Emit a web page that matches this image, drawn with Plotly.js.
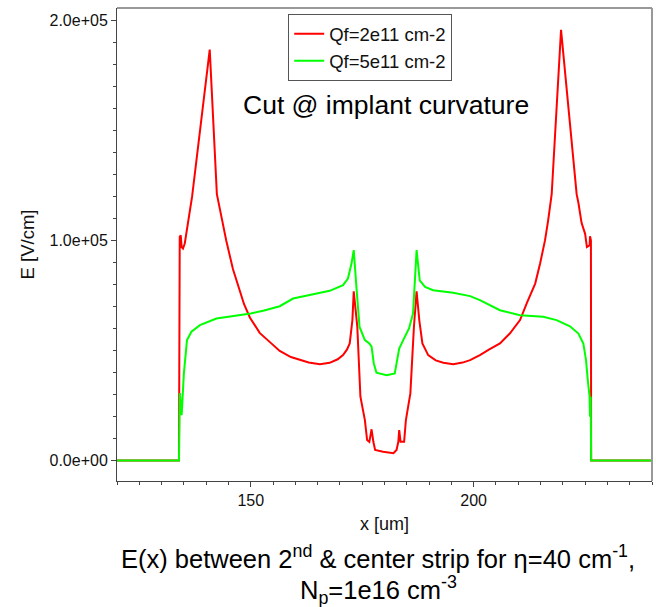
<!DOCTYPE html>
<html>
<head>
<meta charset="utf-8">
<script src="https://cdn.plot.ly/plotly-3.0.1.min.js"></script>
<style>html,body{margin:0;padding:0;background:#fff;}#chart{width:656px;height:607px;}</style>
</head>
<body>
<div id="chart"></div>
<script>
// Qf = 2e11 cm-2 (red)
const xRed = [120, 133.9, 134.07, 134.3, 134.5, 134.8, 135.2, 135.7, 136.1, 136.85, 140.8, 142.4, 143.6, 144.5, 146, 147.5, 148.5, 149.8, 152, 154.3, 156.5, 159, 161, 163, 165.5, 167.7, 169.5, 170.7, 171.6, 172.2, 172.8, 173.1, 173.9, 174.6, 175.6, 176.1, 176.6, 177.1, 177.5, 177.9, 179.7, 182, 182.7, 183.1, 183.3, 183.6, 184.4, 184.8, 185.8, 186.6, 187.2, 187.8, 188.5, 189.8, 191.5, 193.2, 195.4, 197.5, 199.2, 201.4, 203.5, 205.9, 208.1, 210.4, 211.9, 213.8, 214.9, 216, 216.7, 217.5, 219.6, 223.1, 223.5, 224.2, 225, 225.4, 226, 226.1, 226.3, 226.35, 240];
const yRed = [0, 0, 101600, 102300, 97000, 96300, 98600, 105000, 109000, 120000, 186700, 121000, 109000, 100000, 87000, 77000, 71000, 65000, 58000, 53800, 49800, 47000, 45600, 44500, 43800, 44400, 46000, 47900, 50500, 53200, 63800, 76900, 60700, 29000, 18400, 9300, 8500, 14200, 8500, 4800, 4000, 3300, 4800, 8500, 13800, 8500, 8500, 18400, 30500, 60700, 76900, 63800, 53200, 47900, 45500, 44400, 43800, 44500, 45600, 47900, 50500, 53200, 57700, 63800, 71400, 80400, 89500, 100000, 109000, 121000, 195700, 121000, 117000, 108000, 103000, 97000, 97800, 101900, 100000, 0, 0];

// Qf = 5e11 cm-2 (green)
const xGreen = [120, 133.9, 134.1, 134.5, 135, 135.7, 136.7, 138.6, 142.3, 147.4, 150, 153, 156.5, 159.5, 164, 167.7, 170.7, 171.8, 172.6, 173.1, 173.7, 174.4, 175.6, 176.6, 177.1, 177.6, 178.2, 180.5, 182.3, 182.7, 183.3, 184.2, 185.5, 186.4, 186.8, 187.2, 187.9, 189.1, 190.9, 195.4, 199.2, 201.4, 205.9, 210.4, 215.6, 218.6, 221.6, 223.5, 224.6, 225.2, 225.6, 226, 226.1, 226.25, 226.35, 240];
const yGreen = [0, 0, 30600, 20600, 39600, 54700, 58500, 61500, 64500, 66000, 66800, 68200, 70100, 73600, 75600, 77100, 79700, 82700, 89500, 95600, 78900, 60700, 54700, 53200, 51700, 44100, 39900, 38800, 39600, 44100, 50900, 54700, 60000, 66800, 80400, 95600, 81900, 78900, 77400, 76200, 74700, 72900, 68300, 66000, 65300, 63800, 61000, 57700, 53200, 45600, 36500, 29000, 19900, 29000, 0, 0];

const seriesNames = ['Qf=2e11 cm-2', 'Qf=5e11 cm-2'];
const yTickVals = [0, 100000, 200000];
const yTickText = ['0.0e+00', '1.0e+05', '2.0e+05'];

const FONT = 'Liberation Sans, Arial, sans-serif';

const traces = [
  {x: xRed, y: yRed, name: seriesNames[0], type: 'scatter', mode: 'lines',
   line: {color: '#ff0000', width: 2}},
  {x: xGreen, y: yGreen, name: seriesNames[1], type: 'scatter', mode: 'lines',
   line: {color: '#00ff00', width: 2}}
];

const layout = {
  width: 656, height: 607,
  margin: {l: 117, r: 4, t: 8, b: 126},
  paper_bgcolor: '#fff', plot_bgcolor: '#fff',
  font: {family: FONT, color: '#111', size: 16},
  showlegend: true,
  legend: {x: 0.32, y: 0.987, xanchor: 'left', yanchor: 'top',
           bordercolor: '#555', borderwidth: 1, bgcolor: '#fff',
           font: {family: FONT, size: 18.5, color: '#111'}},
  xaxis: {
    range: [120, 240], tick0: 0, dtick: 50,
    showgrid: false, zeroline: false,
    showline: true, linecolor: '#444', linewidth: 1,
    ticks: 'outside', ticklen: 5, tickcolor: '#444',
    tickfont: {family: FONT, size: 16, color: '#111'},
    minor: {dtick: 5, tick0: 0, ticks: 'outside', ticklen: 3, tickcolor: '#444', showgrid: false},
    title: {text: 'x [um]', font: {family: FONT, size: 18, color: '#111'}, standoff: 9}
  },
  yaxis: {
    range: [-9300, 205600],
    tickmode: 'array', tickvals: yTickVals, ticktext: yTickText,
    showgrid: false, zeroline: false,
    showline: true, linecolor: '#444', linewidth: 1,
    ticks: 'outside', ticklen: 5, tickcolor: '#444',
    tickfont: {family: FONT, size: 16, color: '#111'},
    minor: {dtick: 10000, tick0: 0, ticks: 'outside', ticklen: 3, tickcolor: '#444', showgrid: false},
    title: {text: 'E [V/cm]', font: {family: FONT, size: 18.5, color: '#111'}, standoff: 10}
  },
  shapes: [
    {type: 'line', xref: 'paper', yref: 'paper', x0: 0, x1: 1, y0: 1, y1: 1, line: {color: '#999', width: 2}},
    {type: 'line', xref: 'paper', yref: 'paper', x0: 1, x1: 1, y0: 0, y1: 1, line: {color: '#999', width: 2}}
  ],
  annotations: [
    {text: 'Cut @ implant curvature', xref: 'paper', yref: 'paper', x: 0.5026, y: 0.795,
     xanchor: 'center', yanchor: 'middle', showarrow: false,
     font: {family: FONT, size: 26.5, color: '#000'}},
    {text: 'E(x) between 2<sup>nd</sup> & center strip for η=40 cm<sup>-1</sup>,', xref: 'paper', yref: 'paper',
     x: 0.488, y: -0.161, xanchor: 'center', yanchor: 'middle', showarrow: false,
     font: {family: FONT, size: 25.5, color: '#000'}},
    {text: 'N<sub>p</sub>=1e16 cm<sup>-3</sup>', xref: 'paper', yref: 'paper',
     x: 0.488, y: -0.231, xanchor: 'center', yanchor: 'middle', showarrow: false,
     font: {family: FONT, size: 25.5, color: '#000'}}
  ]
};

Plotly.newPlot('chart', traces, layout, {displayModeBar: false, staticPlot: true});
</script>
</body>
</html>
